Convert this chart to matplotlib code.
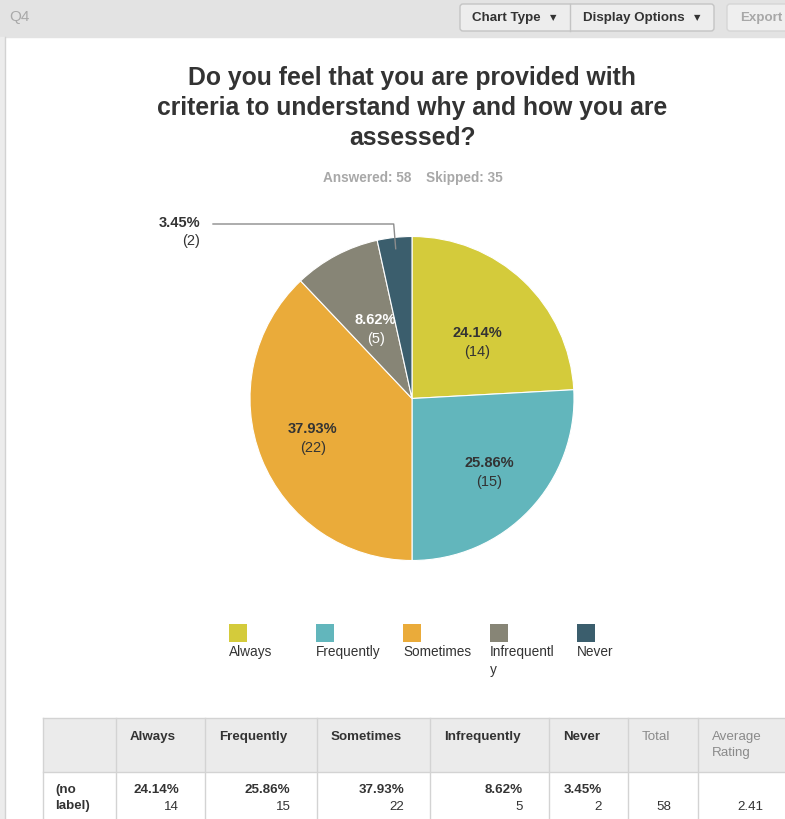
import numpy as np
import matplotlib.pyplot as plt
from matplotlib.patches import Rectangle, FancyBboxPatch

plt.rcParams['font.family'] = ['Liberation Sans', 'DejaVu Sans']

# survey results for Q4
question = 'Q4'
title = ('Do you feel that you are provided with\n'
         'criteria to understand why and how you are\n'
         'assessed?')
categories = ['Always', 'Frequently', 'Sometimes', 'Infrequently', 'Never']
counts = [14, 15, 22, 5, 2]
colors = ['#d4cb3b', '#62b6bc', '#eaab3a', '#878576', '#3b5e6d']
answered = 58
skipped = 35
row_label = '(no\nlabel)'

total = sum(counts)
pcts = [100 * c / total for c in counts]
avg_rating = sum((i + 1) * c for i, c in enumerate(counts)) / total

DARK = '#333333'
W, H = 785, 819
fig = plt.figure(figsize=(W / 100, H / 100), dpi=100)
ax = fig.add_axes([0, 0, 1, 1])

# page chrome: grey header strip, white panel, buttons
ax.add_patch(Rectangle((0, 0), W, 37, color='#e3e3e3', zorder=0))
ax.add_patch(Rectangle((0, 37), 4, H, color='#ececec', zorder=0))
ax.plot([4.5, 4.5], [37, H], color='#d2d2d2', lw=1)
ax.text(9, 17, question, fontsize=11, color='#a9a9a9', va='center', ha='left')

ax.add_patch(FancyBboxPatch((460, 4), 254, 27, boxstyle='round,pad=0,rounding_size=3',
                            fc='#ededed', ec='#c4c4c4', lw=1))
ax.plot([570, 570], [4, 31], color='#c4c4c4', lw=1)
ax.add_patch(FancyBboxPatch((727, 4), 90, 27, boxstyle='round,pad=0,rounding_size=3',
                            fc='#efefef', ec='#d6d6d6', lw=1))
ax.text(472, 17.5, 'Chart Type', fontsize=9.6, fontweight='bold', color=DARK, va='center')
ax.text(553, 17.5, '▼', fontsize=6, color=DARK, va='center', ha='center',
        family='DejaVu Sans')
ax.text(583, 17.5, 'Display Options', fontsize=9.6, fontweight='bold', color=DARK, va='center')
ax.text(697, 17.5, '▼', fontsize=6, color=DARK, va='center', ha='center',
        family='DejaVu Sans')
ax.text(740, 17.5, 'Export', fontsize=9.6, fontweight='bold', color='#a8a8a8', va='center')

# title and response counts
ax.text(412, 108, title, fontsize=17.8, fontweight='bold', color=DARK,
        ha='center', va='center', linespacing=1.34)
ax.text(411, 178, f'Answered: {answered}', fontsize=9.8, fontweight='bold',
        color='#a8a8a8', ha='right', va='center')
ax.text(426, 178, f'Skipped: {skipped}', fontsize=9.8, fontweight='bold',
        color='#a8a8a8', ha='left', va='center')

# pie, clockwise from 12 o'clock (y axis runs downward)
cx, cy, r = 412, 398.5, 162
wedges, _ = ax.pie(counts, colors=colors, startangle=-90, counterclock=True,
                   center=(cx, cy), radius=r,
                   wedgeprops=dict(edgecolor='white', linewidth=0.8))

label_dist = [0.53, 0.66, 0.66, 0.48]
label_shift = [6, 0, 0, 0]   # small angular nudge, degrees
text_cols = [DARK, DARK, DARK, 'white']
for i, w in enumerate(wedges):
    mid = np.deg2rad((w.theta1 + w.theta2) / 2)
    if i < len(label_dist):
        a = mid + np.deg2rad(label_shift[i])
        lx = cx + r * label_dist[i] * np.cos(a)
        ly = cy + r * label_dist[i] * np.sin(a)
        ax.text(lx, ly - 9.5, f'{pcts[i]:.2f}%', fontsize=10.5, fontweight='bold',
                color=text_cols[i], ha='center', va='center')
        ax.text(lx, ly + 9.5, f'({counts[i]})', fontsize=10.5,
                color=text_cols[i], ha='center', va='center')
    else:
        # small slice gets an outside label with a leader line
        ex = cx + r * 0.93 * np.cos(mid)
        ey = cy + r * 0.93 * np.sin(mid)
        ax.plot([ex, ex - 2, 213], [ey, 224, 224], color='#8c8c8c', lw=1)
        ax.text(200, 223, f'{pcts[i]:.2f}%', fontsize=10.5, fontweight='bold',
                color=DARK, ha='right', va='center')
        ax.text(200, 241, f'({counts[i]})', fontsize=10.5,
                color=DARK, ha='right', va='center')

# legend
for i, (cat, col) in enumerate(zip(categories, colors)):
    x0 = 229 + 87 * i
    ax.add_patch(Rectangle((x0, 624), 18, 18, fc=col, ec='none'))
    name = cat if len(cat) <= 11 else cat[:11] + '\n' + cat[11:]
    for j, line in enumerate(name.split('\n')):
        ax.text(x0, 652 + 18 * j, line, fontsize=9.8, color=DARK, ha='left', va='center')

# summary table
col_edges = [43, 116, 205, 316.5, 430, 549, 628, 697.5, 800]
top, mid_y, bottom = 718, 772, 830
ax.add_patch(Rectangle((col_edges[0], top), col_edges[-1] - col_edges[0], mid_y - top,
                       fc='#ebebeb', ec='none'))
for x in col_edges:
    ax.plot([x, x], [top, bottom], color='#d3d3d3', lw=1)
for y in (top, mid_y):
    ax.plot([col_edges[0], col_edges[-1]], [y, y], color='#d3d3d3', lw=1)

for i, cat in enumerate(categories):
    ax.text(col_edges[i + 1] + 14, 737, cat, fontsize=9.6, fontweight='bold',
            color=DARK, ha='left', va='center')
    right = col_edges[i + 2] - 26
    ax.text(right, 790, f'{pcts[i]:.2f}%', fontsize=9.6, fontweight='bold',
            color=DARK, ha='right', va='center')
    ax.text(right, 806.5, f'{counts[i]}', fontsize=9.6, color=DARK,
            ha='right', va='center')

ax.text(col_edges[6] + 14, 737, 'Total', fontsize=9.6, color='#8a8a8a', ha='left', va='center')
ax.text(col_edges[7] + 14, 737, 'Average', fontsize=9.6, color='#8a8a8a', ha='left', va='center')
ax.text(col_edges[7] + 14, 753, 'Rating', fontsize=9.6, color='#8a8a8a', ha='left', va='center')
ax.text(col_edges[7] - 26, 806.5, f'{total}', fontsize=9.6, color=DARK, ha='right', va='center')
ax.text(763, 806.5, f'{avg_rating:.2f}', fontsize=9.6, color=DARK, ha='right', va='center')
for j, line in enumerate(row_label.split('\n')):
    ax.text(55, 790 + 16.5 * j, line, fontsize=9.6, fontweight='bold', color=DARK,
            ha='left', va='center')

ax.set_xlim(0, W)
ax.set_ylim(H, 0)
ax.set_aspect('auto')
ax.axis('off')

fig.savefig('out.png', dpi=100)
